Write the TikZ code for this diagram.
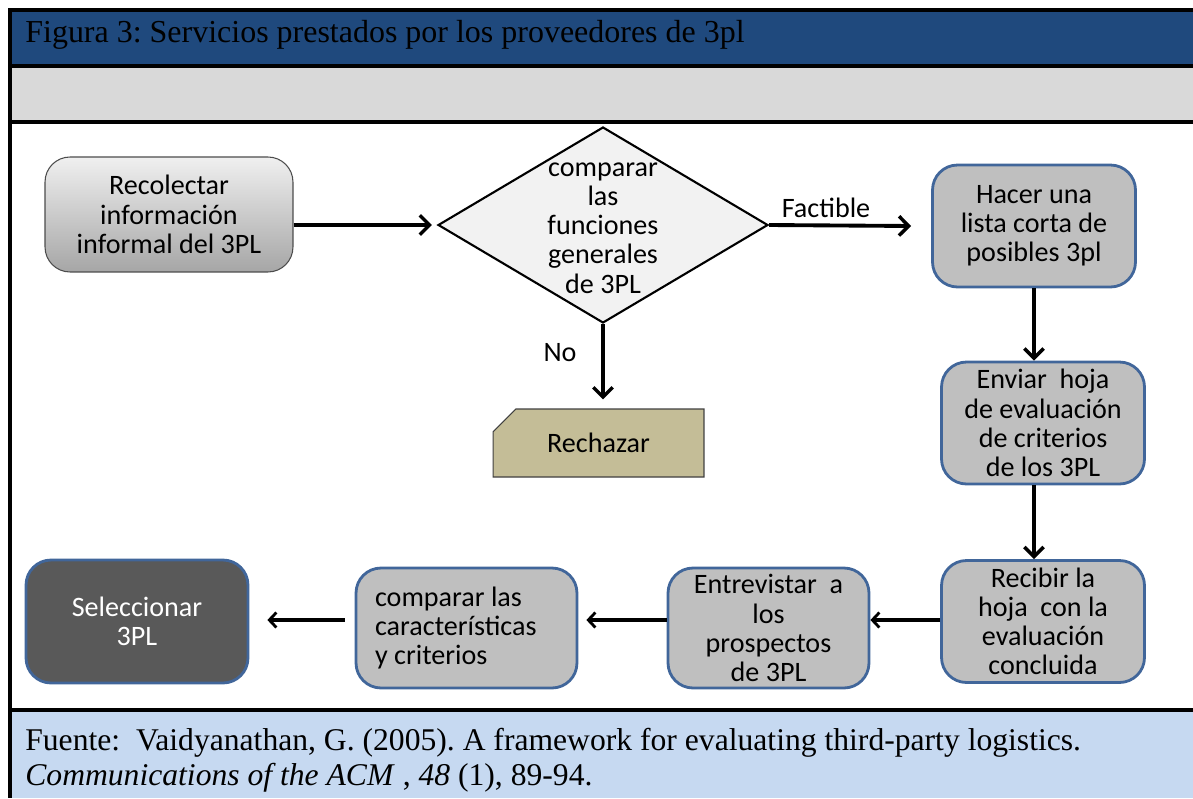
\documentclass[tikz,border=0pt]{standalone}
\usepackage{fontspec}
\setmainfont{Liberation Serif}
\newfontfamily\flowfont{Carlito}
\usetikzlibrary{arrows.meta,shapes.geometric,shapes.misc,calc}
\frenchspacing

\definecolor{bandblue}{HTML}{1F497D}
\definecolor{bandgray}{HTML}{D9D9D9}
\definecolor{footblue}{HTML}{C6D9F1}
\definecolor{boxfill}{HTML}{BFBFBF}
\definecolor{boxline}{HTML}{41669A}
\definecolor{darkfill}{HTML}{595959}
\definecolor{tanfill}{HTML}{C4BD97}
\definecolor{lightfill}{HTML}{F2F2F2}

\tikzset{
  frame/.style={line width=2.2pt, black},
  flowtext/.style={font=\flowfont\fontsize{16}{16.6}\selectfont, align=center},
  stepbox/.style={flowtext, rectangle, rounded corners=0.5cm, draw=boxline,
    line width=1.6pt, fill=boxfill, inner sep=0pt},
  startbox/.style={flowtext, rectangle, rounded corners=0.5cm, draw=black!70,
    line width=0.6pt, top color=black!6, bottom color=black!35, inner sep=0pt},
  endbox/.style={stepbox, fill=darkfill, text=white},
  rejectbox/.style={flowtext, chamfered rectangle, chamfered rectangle corners=north west,
    chamfered rectangle xsep=0.84cm, chamfered rectangle ysep=0.26cm,
    draw=black!75, line width=0.6pt, fill=tanfill, inner sep=0pt},
  decision/.style={diamond, draw=black, line width=1.2pt, fill=lightfill, inner sep=0pt},
  arr/.style={line width=2.2pt, -{Straight Barb[length=5.5pt,width=11pt,line width=2pt]}},
  arrsmall/.style={line width=1.8pt, -{Straight Barb[length=4pt,width=8.5pt,line width=1.6pt]}},
  lbl/.style={font=\flowfont\fontsize{16}{16.6}\selectfont, inner sep=0pt},
  srcfont/.style={font=\fontsize{18}{20}\selectfont, inner sep=0pt, anchor=base west}
}

\begin{document}
\begin{tikzpicture}[x=0.02cm, y=-0.02cm]
\useasboundingbox (0,0) rectangle (1193,798);

% bands of the table
\fill[bandblue] (10,10) rectangle (1193,66);
\fill[bandgray] (10,66) rectangle (1193,122);
\fill[footblue] (10,710) rectangle (1193,798);
\draw[frame] (8,10) -- (1193,10);
\draw[frame] (8,66) -- (1193,66);
\draw[frame] (8,122) -- (1193,122);
\draw[frame] (8,710) -- (1193,710);
\draw[frame] (10,9) -- (10,798);

\node[srcfont, font=\fontsize{18.2}{20}\selectfont] (title) at (25,42)
  {Figura 3: Servicios prestados por los proveedores de 3pl};

% flowchart
\node[startbox, minimum width=4.96cm, minimum height=2.30cm] (rec) at (169,214.5)
  {Recolectar\\información\\informal del 3PL};
\node[decision, minimum width=6.6cm, minimum height=3.92cm] (dia) at (603,225) {};
\node[flowtext] (diatext) at (603,228) {comparar\\las\\funciones\\generales\\de 3PL};
\node[stepbox, minimum width=4.06cm, minimum height=2.44cm] (hac) at (1034,226)
  {Hacer una\\lista corta de\\posibles 3pl};
\node[stepbox, minimum width=4.06cm, minimum height=2.44cm] (env) at (1043,423)
  {Enviar~ hoja\\de evaluación\\de criterios\\de los 3PL};
\node[stepbox, minimum width=4.06cm, minimum height=2.44cm] (rcb) at (1043,621.5)
  {Recibir la\\hoja~ con la\\evaluación\\concluida};
\node[stepbox, minimum width=4.02cm, minimum height=2.40cm] (ent) at (768.5,628)
  {Entrevistar~ a\\los\\prospectos\\de 3PL};
\node[stepbox, align=flush left, text width=3.66cm, minimum width=4.42cm, minimum height=2.40cm]
  (cmp) at (466.5,628) {comparar las\\características\\y criterios};
\node[endbox, minimum width=4.44cm, minimum height=2.46cm] (sel) at (137,621.5)
  {Seleccionar\\3PL};
\node[rejectbox, minimum width=4.22cm, minimum height=1.36cm] (rej) at (598.5,443)
  {Rechazar};

% connectors
\draw[arr] (rec.east |- dia.west) -- ($(dia.west)+(-5,0)$);
\draw[arr] (dia.east) -- ($(hac.west)+(-20,0)$);
\node[lbl] (fact) at (826,208) {Factible};
\draw[arr] (dia.south) -- ($(dia.south |- rej.north)+(0,-9)$);
\node[lbl] (no) at (560,353) {No};
\draw[arr] (hac.south) -- (hac.south |- env.north);
\draw[arr] (hac.south |- env.south) -- (hac.south |- rcb.north);
\draw[arrsmall] (rcb.west) ++(0,-1.5) coordinate (rw) -- (ent.east |- rw);
\draw[arrsmall] (ent.west |- rw) -- ($(cmp.east |- rw)+(8,0)$);
\draw[arrsmall] ($(cmp.west |- rw)+(-10,0)$) -- ($(sel.east |- rw)+(18,0)$);

% source
\node[srcfont] (src1) at (25,750)
  {Fuente:~ Vaidyanathan, G. (2005). A framework for evaluating third-party logistics.};
\node[srcfont] (src2) at (25,785)
  {\textit{Communications of the ACM} , \textit{48} (1), 89-94.};
\end{tikzpicture}
\end{document}
